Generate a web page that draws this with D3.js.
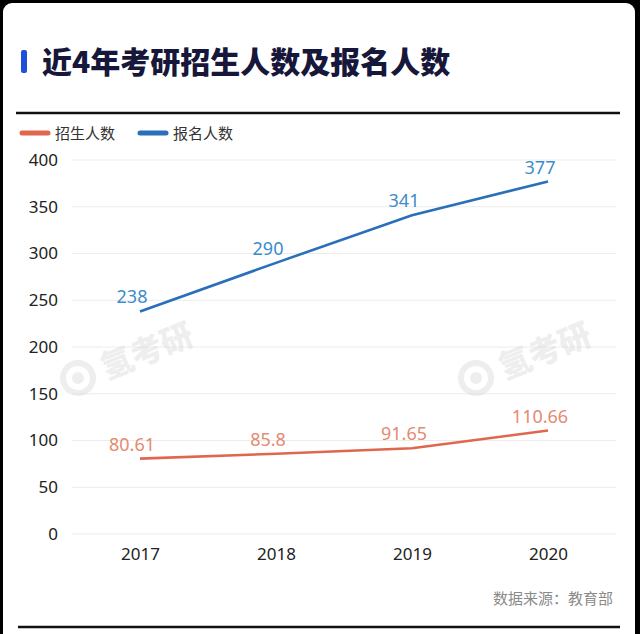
<!DOCTYPE html>
<html>
<head>
<meta charset="utf-8">
<script src="https://cdn.jsdelivr.net/npm/d3@7"></script>
<style>
    body { margin: 0; background: #000; }
    svg { display: block; }
    text { font-family: "Noto Sans CJK SC", "Noto Sans", sans-serif; }
</style>
</head>
<body>
<script>
const years = ['2017', '2018', '2019', '2020'];
const enrolled = [80.61, 85.8, 91.65, 110.66];
const applicants = [238, 290, 341, 377];
const yTicks = [0, 50, 100, 150, 200, 250, 300, 350, 400];
const seriesNames = ['招生人数', '报名人数'];

const width = 640;
const height = 634;
const margin = { top: 160, right: 24, bottom: 100, left: 72 };

const svg = d3.select('body')
    .append('svg')
    .attr('width', width)
    .attr('height', height);

// white card on dark frame
svg.append('rect')
    .attr('x', 3).attr('y', 3)
    .attr('width', 632).attr('height', 640)
    .attr('rx', 9)
    .attr('fill', '#fff');

// title
svg.append('rect')
    .attr('x', 21).attr('y', 50)
    .attr('width', 6).attr('height', 23)
    .attr('rx', 2)
    .attr('fill', '#1f4fd8');

svg.append('text')
    .attr('x', 42).attr('y', 73)
    .attr('fill', '#16173a')
    .style('font-size', '30px')
    .style('font-weight', 900)
    .text('近4年考研招生人数及报名人数');

svg.append('line')
    .attr('x1', 16).attr('x2', 620)
    .attr('y1', 113).attr('y2', 113)
    .attr('stroke', '#111')
    .attr('stroke-width', 2.5);

svg.append('line')
    .attr('x1', 18).attr('x2', 620)
    .attr('y1', 627).attr('y2', 627)
    .attr('stroke', '#111')
    .attr('stroke-width', 2.5);

const x = d3.scalePoint()
    .domain(years)
    .range([margin.left, width - margin.right])
    .padding(0.5);

const y = d3.scaleLinear()
    .domain([0, 400])
    .range([height - margin.bottom, margin.top]);

// grid
svg.append('g')
    .selectAll('line')
    .data(yTicks)
    .join('line')
    .attr('x1', margin.left)
    .attr('x2', width - margin.right)
    .attr('y1', d => y(d))
    .attr('y2', d => y(d))
    .attr('stroke', '#ececec')
    .attr('stroke-width', 1);

// y axis labels
const yAxis = svg.append('g')
    .attr('transform', `translate(${margin.left},0)`)
    .call(d3.axisLeft(y).tickValues(yTicks).tickSize(0).tickPadding(14));
yAxis.select('.domain').remove();
yAxis.selectAll('text')
    .attr('fill', '#222')
    .style('font-size', '17px')
    .style('font-family', '"Noto Sans", sans-serif');

// x axis labels
const xAxis = svg.append('g')
    .attr('transform', `translate(0,${height - margin.bottom})`)
    .call(d3.axisBottom(x).tickSize(0).tickPadding(14));
xAxis.select('.domain').remove();
xAxis.selectAll('text')
    .attr('fill', '#222')
    .style('font-size', '17px')
    .style('font-family', '"Noto Sans", sans-serif');

// watermarks
function addWatermark(cx, cy) {
    const g = svg.append('g')
        .attr('transform', `translate(${cx},${cy}) rotate(-22)`)
        .attr('opacity', 0.35);
    g.append('circle').attr('r', 15).attr('fill', 'none')
        .attr('stroke', '#d0d0d0').attr('stroke-width', 6);
    g.append('circle').attr('r', 6).attr('fill', '#d0d0d0');
    g.append('text')
        .attr('x', 26).attr('y', 12)
        .attr('fill', '#d0d0d0')
        .style('font-size', '32px')
        .style('font-weight', 900)
        .text('氢考研');
}
addWatermark(78, 378);
addWatermark(476, 378);

const series = [
    { name: seriesNames[0], values: enrolled, line: '#e0674d', label: '#e58a72' },
    { name: seriesNames[1], values: applicants, line: '#2a6fba', label: '#3c8ccc' }
];

const line = d3.line()
    .x((d, i) => x(years[i]))
    .y(d => y(d));

series.forEach(s => {
    svg.append('path')
        .datum(s.values)
        .attr('fill', 'none')
        .attr('stroke', s.line)
        .attr('stroke-width', 2.6)
        .attr('d', line);

    svg.append('g')
        .selectAll('text')
        .data(s.values)
        .join('text')
        .attr('x', (d, i) => x(years[i]) - 8)
        .attr('y', d => y(d) - 8)
        .attr('text-anchor', 'middle')
        .attr('fill', s.label)
        .style('font-size', '18px')
        .style('font-family', '"Noto Sans", sans-serif')
        .text(d => d);
});

// legend
const legend = svg.append('g')
    .attr('transform', 'translate(22,133)');

const legendItems = legend.selectAll('g')
    .data(series)
    .join('g')
    .attr('transform', (d, i) => `translate(${i * 118},0)`);

legendItems.append('line')
    .attr('x1', 0).attr('x2', 26)
    .attr('stroke', d => d.line)
    .attr('stroke-width', 5)
    .attr('stroke-linecap', 'round');

legendItems.append('text')
    .attr('x', 33).attr('y', 6)
    .attr('fill', '#333')
    .style('font-size', '15px')
    .text(d => d.name);

// source
svg.append('text')
    .attr('x', 613).attr('y', 604)
    .attr('text-anchor', 'end')
    .attr('fill', '#8a8a8a')
    .style('font-size', '15px')
    .text('数据来源：教育部');
</script>
</body>
</html>
